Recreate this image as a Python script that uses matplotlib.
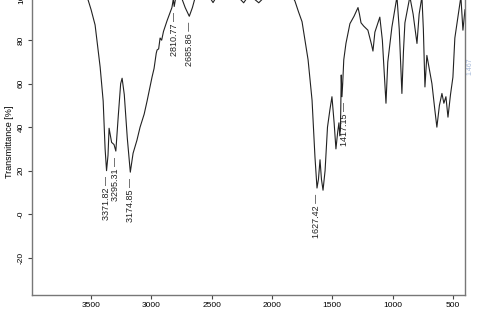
import numpy as np
import matplotlib.pyplot as plt

plt.rcParams['font.family'] = ['Liberation Sans', 'DejaVu Sans']

# IR spectrum (wavenumber in cm-1, transmittance in %)
wavenumber = [4000, 3800, 3600, 3550, 3525, 3500, 3467, 3425, 3400, 3384, 3372, 3360,
              3351, 3330, 3310, 3295, 3275, 3255, 3243, 3225, 3200, 3175, 3152, 3120,
              3094, 3060, 3036, 2995, 2978, 2960, 2953, 2940, 2928, 2915, 2900, 2870,
              2830, 2818, 2811, 2800, 2780, 2750, 2720, 2686, 2660, 2638, 2600, 2520,
              2489, 2460, 2400, 2300, 2235, 2200, 2170, 2110, 2060, 2000, 1900, 1840,
              1810, 1780, 1751, 1701, 1668, 1644, 1627, 1615, 1602, 1590, 1577, 1560,
              1540, 1520, 1503, 1485, 1470, 1455, 1445, 1438, 1432, 1426, 1420, 1414,
              1405, 1387, 1354, 1320, 1287, 1275, 1262, 1240, 1205, 1175, 1163, 1147,
              1106, 1085, 1064, 1055, 1040, 1006, 964, 945, 923, 910, 898, 857, 830,
              798, 780, 757, 745, 732, 716, 700, 674, 650, 633, 612, 591, 575, 558,
              541, 520, 500, 484, 460, 434, 417, 400]
transmittance = [102, 102, 101.5, 100.5, 98.5, 94, 87, 67.6, 52, 30, 20, 27,
                 39.5, 33, 32, 29, 45, 60, 62.5, 55, 35, 19.3, 28, 34,
                 40, 46, 52, 63, 67, 74, 75.5, 76, 81, 80, 84, 89,
                 95, 99, 95.5, 99, 101, 99.5, 95, 91, 95, 99.5, 101, 100,
                 97.3, 100, 101, 101, 97.2, 100, 100, 97.2, 100, 101.5, 102, 101,
                 98, 93, 88.5, 71, 52.4, 26.4, 12, 16, 25, 16, 11, 20,
                 40, 48, 54, 42, 30, 38, 42, 36, 40, 64, 54, 60,
                 71, 78.5, 87.6, 91, 95, 92, 88, 86.5, 84.6, 78, 75, 83.7,
                 90.6, 80, 60, 51, 70, 86, 100, 85, 55.5, 75, 88, 100, 92,
                 78.5, 92, 100, 85, 58.5, 73, 68, 60, 48, 40, 50, 55.5, 51, 54,
                 44.6, 55, 63, 81, 90, 100, 84.6, 94]

# labelled peaks: label, where it sits and the value it hangs below
peak_labels = ['3371.82', '3295.31', '3174.85', '2810.77', '2685.86', '1627.42', '1417.15']
peak_pos = [3371.82, 3295.31, 3174.85, 2810.77, 2685.86, 1627.42, 1400]
peak_val = [20, 29, 19.3, 95.5, 91, 12, 54]

fig = plt.figure(figsize=(4.8, 3.19), dpi=100)
ax = fig.add_axes([0.0667, 0.0752, 0.902, 0.9624])

ax.plot(wavenumber, transmittance, color='#222222', lw=0.8)

for lab, p, v in zip(peak_labels, peak_pos, peak_val):
    ax.text(p, v - 2.5, lab + ' \u2014', rotation=90, ha='center', va='top',
            fontsize=6.5, color='#222222')

# partially visible label at the right edge
ax.text(385, 68, '1.467', rotation=90, ha='left', va='center', fontsize=5,
        color='#8fa8d0', alpha=0.8, clip_on=False)

ax.set_xlim(3990, 400)
ax.set_ylim(-37.2, 104)
ax.set_xticks([3500, 3000, 2500, 2000, 1500, 1000, 500])
ax.set_yticks([-20, 0, 20, 40, 60, 80, 100])
ax.set_yticklabels(['-20', '-0', '20', '40', '60', '80', '100'], rotation=90, va='center')
ax.tick_params(labelsize=6, length=3, width=0.8, color='#444444', pad=2)
ax.set_ylabel('Transmittance [%]', fontsize=6.5, labelpad=3)
for s in ax.spines.values():
    s.set_color('#777777')
    s.set_linewidth(1)

plt.savefig('out.png', dpi=100)
